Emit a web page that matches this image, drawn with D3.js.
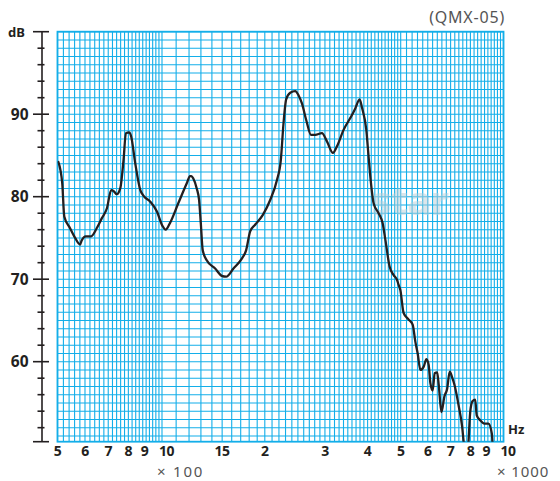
<!DOCTYPE html>
<html><head><meta charset="utf-8">
<script src="https://cdn.jsdelivr.net/npm/d3@7"></script>
<style>
html,body{margin:0;padding:0;background:#fff;}
svg{display:block;}
</style></head>
<body>
<svg id="c" width="560" height="481"></svg>
<script>
// ---- data ----
const freqHz = [503,516,523,543,562,581,587,603,625,649,671,694,714,725,741,758,775,787,805,815,837,866,885,925,967,
  1002,1025,1055,1116,1181,1208,1219,1235,1264,1284,1299,1316,1352,1431,1497,1541,1619,1713,1763,1812,1874,1974,
  2074,2170,2229,2269,2310,2374,2455,2510,2569,2644,2730,2810,2940,3041,3167,3253,3402,3600,3681,3790,3851,3965,
  4026,4093,4165,4308,4426,4508,4641,4768,4879,4931,4988,5100,5276,5420,5520,5607,5710,5839,5946,6038,6108,6203,
  6288,6392,6462,6580,6715,6838,6959,7073,7184,7396,7568,7650,7816,7894,7986,8110,8261,8349,8543,8795,9036,9241,9283,9294];
const levelDb = [84.2,81.6,77.6,76.2,75.0,74.2,74.7,75.2,75.2,76.2,77.4,78.6,80.8,80.7,80.3,81.0,84.5,87.7,87.8,87.3,84.1,80.8,80.1,79.4,78.2,
  76.5,76.0,76.8,79.2,81.6,82.5,82.5,82.2,81.0,79.6,76.8,73.5,72.3,71.3,70.4,70.3,71.3,72.5,73.5,75.8,76.6,77.8,
  79.6,82.0,84.5,88.9,91.8,92.6,92.8,92.3,91.3,89.3,87.5,87.5,87.7,86.7,85.3,86.1,88.1,89.9,90.7,91.8,90.8,88.1,
  84.9,81.6,79.2,78.0,76.8,74.8,71.5,70.5,69.9,69.3,68.7,65.9,65.1,64.5,62.4,61.0,59.0,59.4,60.3,59.6,57.4,56.5,
  58.6,58.7,57.2,53.9,55.8,56.7,58.8,58.1,57.2,54.6,52.1,50.15,48.1,50.15,53.8,55.2,55.4,53.5,52.9,52.5,52.5,51.3,50.15,49.3];
const xTickValues = [500,600,700,800,900,1000,1500,2000,3000,4000,5000,6000,7000,8000,9000,10000];
const xTickLabels = ["5","6","7","8","9","10","15","2","3","4","5","6","7","8","9","10"];
const yTickValues = [60,70,80,90];
const yTickLabels = ["60","70","80","90"];
const chartTag = "(QMX-05)";

// ---- layout ----
const svg = d3.select("#c");
const L = 57.5, R = 503.5, T = 31.7, B = 441.7;
const x = d3.scaleLog().domain([500,1000,10000]).range([L,162,R]);
const y = d3.scaleLinear().domain([50.3,100]).range([B,T]);
const gridColor = "#13aee9";

// grid
const vLines = [].concat(
  d3.range(500,1000,20), d3.range(1000,5000,100), d3.range(5000,10001,200));
const hLines = d3.range(51,101,1);
const g = svg.append("g");
g.selectAll("line.v").data(vLines).join("line")
  .attr("x1",d=>x(d)).attr("x2",d=>x(d)).attr("y1",T).attr("y2",B)
  .attr("stroke",gridColor).attr("stroke-width",1.1);
g.selectAll("line.h").data(hLines).join("line")
  .attr("x1",L).attr("x2",R).attr("y1",d=>y(d)).attr("y2",d=>y(d))
  .attr("stroke",gridColor).attr("stroke-width",1.1);
g.append("rect").attr("x",L).attr("y",T).attr("width",R-L).attr("height",B-T)
  .attr("fill","none").attr("stroke",gridColor).attr("stroke-width",1.8);

// watermark
svg.append("text").attr("x",371).attr("y",215).text("star")
  .attr("font-family","Noto Sans, sans-serif").attr("font-weight",800)
  .attr("font-size",40).attr("fill","#b8cfd8").attr("opacity",0.5).attr("letter-spacing",-1);

// curve
svg.append("clipPath").attr("id","clp").append("rect")
  .attr("x",L).attr("y",T).attr("width",R-L).attr("height",B-T);
const pts = freqHz.map((f,i)=>[f,levelDb[i]]);
svg.append("path").datum(pts)
  .attr("clip-path","url(#clp)")
  .attr("d",d3.line().x(d=>x(d[0])).y(d=>y(d[1])).curve(d3.curveMonotoneX))
  .attr("fill","none").attr("stroke","#231f20").attr("stroke-width",2.3)
  .attr("stroke-linejoin","round").attr("stroke-linecap","round");

// y axis
const ax = 42;
const ya = svg.append("g").attr("stroke","#231f20");
ya.append("line").attr("x1",ax).attr("x2",ax).attr("y1",T).attr("y2",B).attr("stroke-width",1.6);
ya.selectAll("line.maj").data([100,90,80,70,60]).join("line")
  .attr("x1",33).attr("x2",49).attr("y1",d=>y(d)).attr("y2",d=>y(d)).attr("stroke-width",1.6);
ya.append("line").attr("x1",33).attr("x2",49).attr("y1",B).attr("y2",B).attr("stroke-width",1.6);
ya.selectAll("line.min").data(d3.range(52,100,2).filter(v=>v%10!==0)).join("line")
  .attr("x1",37.5).attr("x2",44.5).attr("y1",d=>y(d)).attr("y2",d=>y(d)).attr("stroke-width",1.6);

const font = "Noto Sans, DejaVu Sans, sans-serif";
svg.selectAll("text.yl").data(yTickValues).join("text")
  .attr("x",28.5).attr("y",d=>y(d)).attr("dy","0.36em").attr("text-anchor","end")
  .attr("font-family",font).attr("font-weight",700).attr("font-size",15.5).attr("fill","#231f20")
  .text((d,i)=>yTickLabels[i]);
svg.append("text").attr("x",8).attr("y",37).text("dB")
  .attr("font-family",font).attr("font-weight",700).attr("font-size",13).attr("fill","#231f20");

// x labels
svg.selectAll("text.xl").data(xTickValues).join("text")
  .attr("x",d=>x(d)).attr("dx",(d,i)=>xTickLabels[i]==="10"?4.5:(xTickLabels[i]==="9"?-1.5:0))
  .attr("y",456).attr("text-anchor","middle")
  .attr("font-family",font).attr("font-weight",700).attr("font-size",14).attr("fill","#231f20")
  .attr("letter-spacing",-0.5)
  .text((d,i)=>xTickLabels[i]);
svg.append("text").attr("x",157).attr("y",477).text("× 100")
  .attr("font-family",font).attr("font-size",15).attr("letter-spacing",1.8).attr("fill","#555");
svg.append("text").attr("x",497).attr("y",477).text("× 1000")
  .attr("font-family",font).attr("font-size",15).attr("letter-spacing",0.9).attr("fill","#555");
svg.append("text").attr("x",508).attr("y",434).text("Hz")
  .attr("font-family",font).attr("font-weight",700).attr("font-size",13).attr("fill","#231f20");
svg.append("text").attr("x",505).attr("y",23).attr("text-anchor","end").text(chartTag)
  .attr("font-family",font).attr("font-size",16).attr("letter-spacing",0.8).attr("fill","#555");
</script>
</body></html>
